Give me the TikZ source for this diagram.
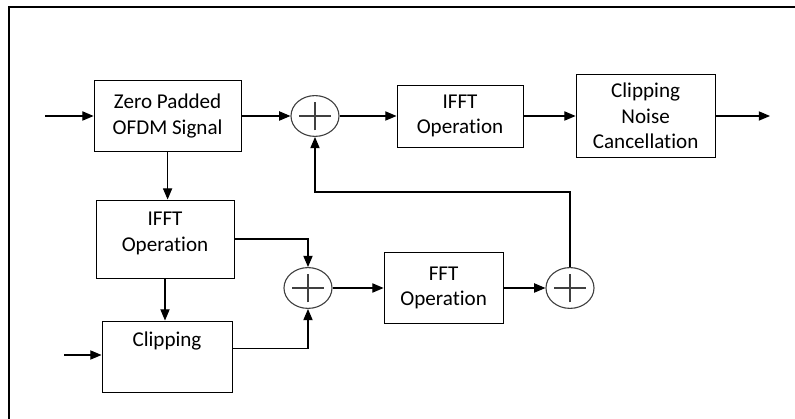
\documentclass[tikz,border=0pt]{standalone}
\usepackage{fontspec}
\setmainfont{Carlito}[RawFeature={-liga,-clig,-dlig}]
\usetikzlibrary{arrows.meta}
\usetikzlibrary{shapes.geometric}
\tikzset{
    block/.style={rectangle, draw, line width=0.7pt, align=center,
    	font=\fontsize{15}{18}\selectfont, inner sep=2pt}
}
\tikzset{
    summer/.style={ellipse, draw=black!75, line width=0.8pt,
    	minimum width=1.2cm, minimum height=1.02cm, inner sep=0pt,
    	path picture={
    	\draw[line width=0.8pt] ([xshift=-0.4cm]path picture bounding box.center)
    		-- ([xshift=0.4cm]path picture bounding box.center);
    	\draw[line width=0.8pt] ([yshift=-0.36cm]path picture bounding box.center)
    		-- ([yshift=0.36cm]path picture bounding box.center);}}
}
\tikzset{
    every edge/.append style={line width=0.8pt, -{Triangle[length=2.8mm,width=2.3mm]}}
}
\tikzset{
    flow/.style={line width=0.8pt, -{Triangle[length=2.8mm,width=2.3mm]}}
}

\begin{document}
\begin{tikzpicture}
	\useasboundingbox (0,0) rectangle (19.875cm, 10.475cm);
	\draw[line width=1.5pt] (0.225cm, 0cm) -- (0.225cm, 10.3cm) -- (19.875cm, 10.3cm);

	\node (zp) [block, minimum width=3.675cm, minimum height=1.775cm] at (4.19cm, 7.575cm) {Zero Padded\\OFDM Signal};
	\node (sumA) [summer] at (7.875cm, 7.575cm) {};
	\node (ifftA) [block, minimum width=3.15cm, minimum height=1.55cm] at (11.5cm, 7.575cm) {IFFT\\Operation};
	\node (cnc) [block, minimum width=3.475cm, minimum height=2.075cm] at (16.14cm, 7.575cm) {Clipping\\Noise\\Cancellation};
	\node (ifftB) [block, minimum width=3.45cm, minimum height=1.95cm,
		label={[anchor=north, align=center, font=\fontsize{15}{18}\selectfont, inner sep=9pt]north:IFFT\\Operation}] at (4.125cm, 4.5cm) {};
	\node (clip) [block, minimum width=3.25cm, minimum height=1.775cm,
		label={[anchor=north, font=\fontsize{15}{18}\selectfont, inner sep=8pt]north:Clipping}] at (4.175cm, 1.5625cm) {};
	\node (sumB) [summer] at (7.7cm, 3.275cm) {};
	\node (fft) [block, minimum width=2.975cm, minimum height=1.775cm] at (11.09cm, 3.275cm) {FFT\\Operation};
	\node (sumC) [summer] at (14.25cm, 3.275cm) {};

	\coordinate (inA) at (1.125cm, 7.575cm);
	\coordinate (outA) at (19.25cm, 7.575cm);
	\coordinate (inB) at (1.6cm, 1.6cm);
	\coordinate (fb) at (14.25cm, 5.675cm);

	\draw (inA) edge (zp); \draw (zp) edge (sumA); \draw (sumA) edge (ifftA);
	\draw (ifftA) edge (cnc); \draw (cnc) edge (outA);
	\draw (zp.south) edge (zp.south |- ifftB.north);
	\draw (ifftB.south) edge (ifftB.south |- clip.north);
	\draw (inB) edge (inB -| clip.west);
	\draw (sumB) edge (fft); \draw (fft) edge (sumC);

	\draw[flow] (ifftB.east) -| (sumB.north);
	\draw[flow] ([yshift=0.19cm]clip.east) -| (sumB.south);
	\draw[flow] (sumC.north) -- (fb) -| (sumA.south);
\end{tikzpicture}
\end{document}
